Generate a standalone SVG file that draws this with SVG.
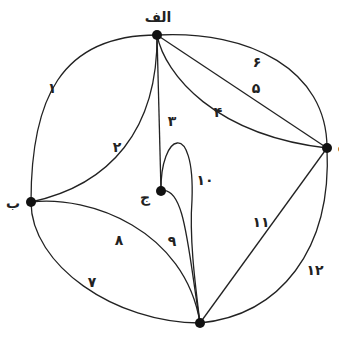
<svg xmlns="http://www.w3.org/2000/svg" width="339" height="344" viewBox="0 0 339 344">
<style>
.e{fill:none;stroke:#222;stroke-width:1.3}
.n{fill:#111}
.t{font-family:"DejaVu Sans","Noto Sans",sans-serif;font-size:14px;font-weight:bold;fill:#222;text-anchor:middle;dominant-baseline:central}
.l{font-size:14px}
</style>
<rect width="339" height="344" fill="#fff"/>
<g id="edges">
<path id="e1" class="e" d="M157,35 C60,35 31,100 31,202"/>
<path id="e2" class="e" d="M157,35 C158,130 110,185 31,202"/>
<path id="e3" class="e" d="M157,35 L161,191"/>
<path id="e4" class="e" d="M157,35 C165,75 215,135 327,148"/>
<path id="e5" class="e" d="M157,35 L327,148"/>
<path id="e6" class="e" d="M157,35 C250,30 327,70 327,148"/>
<path id="e7" class="e" d="M31,202 C31,265 115,323 200,323"/>
<path id="e8" class="e" d="M31,202 C90,195 185,230 200,323"/>
<path id="e9" class="e" d="M161,191 C185,185 188,250 200,323"/>
<path id="e10" class="e" d="M161,191 C160,133 195,118 192,200 C189,240 196,290 200,323"/>
<path id="e11" class="e" d="M327,148 L200,323"/>
<path id="e12" class="e" d="M327,148 C332,250 280,315 200,323"/>
</g>
<g id="edge-labels">
<text class="t" x="52" y="88">۱</text>
<text class="t" x="117" y="147">۲</text>
<text class="t" x="172" y="121">۳</text>
<text class="t" x="218" y="112">۴</text>
<text class="t" x="256" y="88">۵</text>
<text class="t" x="257" y="62">۶</text>
<text class="t" x="92" y="282">۷</text>
<text class="t" x="119" y="240">۸</text>
<text class="t" x="172" y="241">۹</text>
<text class="t" x="205" y="180">۱۰</text>
<text class="t" x="261" y="222">۱۱</text>
<text class="t" x="315" y="270">۱۲</text>
</g>
<g id="node-alef"><circle class="n" cx="157" cy="35" r="5"/><text class="t l" x="158" y="17">الف</text></g>
<g id="node-be"><circle class="n" cx="31" cy="202" r="5"/><text class="t l" x="13" y="203">ب</text></g>
<g id="node-jim"><circle class="n" cx="161" cy="191" r="5"/><text class="t l" x="145" y="197">ج</text></g>
<g id="node-dal"><circle class="n" cx="200" cy="323" r="5"/><text class="t l" x="202" y="348">د</text></g>
<g id="node-he"><circle class="n" cx="327" cy="148" r="5"/><text class="t l" x="342" y="147">ه</text></g>
</svg>
